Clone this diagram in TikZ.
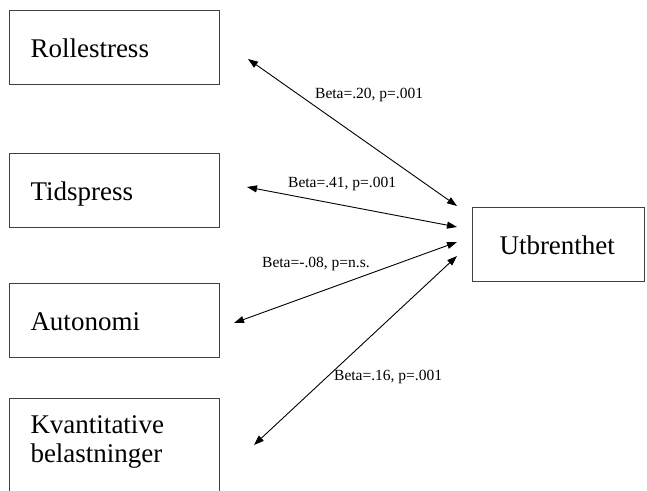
\documentclass[tikz,border=0pt]{standalone}
\usepackage{fontspec}
\setmainfont{Liberation Serif}
\usepackage{tikz}
\usetikzlibrary{arrows.meta, positioning, calc}
\definecolor{bline}{HTML}{404040}
\tikzset{
  vbox/.style={draw=bline, line width=1pt, anchor=north west, align=left,
               text width=168pt, inner xsep=21pt, inner ysep=0pt,
               minimum width=210pt, minimum height=74pt,
               text height=20pt, text depth=0pt,
               font=\fontsize{27}{29}\selectfont},
  coef/.style={anchor=base west, inner sep=0pt, font=\fontsize{15.5}{17}\selectfont},
  arr/.style={{Triangle[length=10pt,width=7pt]}-{Triangle[length=10pt,width=7pt]},
              line width=0.9pt, black},
}
\begin{document}
\begin{tikzpicture}[x=1pt, y=-1pt]
  \useasboundingbox (0,0) rectangle (647,490);

  %% Predictors
  \node[vbox] (rolle)  at (9,10)  {Rollestress};
  \node[vbox] (tids)   at (9,153) {Tidspress};
  \node[vbox] (auto)   at (9,283) {Autonomi};
  \node[vbox, inner ysep=15pt, text depth=70pt] (kvant) at (9,398)
       {Kvantitative\\belastninger};

  %% Outcome
  \node[vbox, text width=118pt, inner xsep=27pt, minimum width=172pt]
       (utb) at (472,207) {Utbrenthet};

  % arrow ends
  \coordinate (r1) at (248,59);
  \coordinate (t1) at (247,187);
  \coordinate (a1) at (234,323);
  \coordinate (k1) at (254,445);
  \coordinate (u1) at (457,206);
  \coordinate (u2) at (457,227);
  \coordinate (u3) at (457,242);
  \coordinate (u4) at (457,256);

  \draw[arr] (r1) -- (u1);
  \draw[arr] (t1) -- (u2);
  \draw[arr] (a1) -- (u3);
  \draw[arr] (k1) -- (u4);

  %% Coefficients
  \node[coef] (c1) at (315,98)  {Beta=.20, p=.001};
  \node[coef] (c2) at (288,187) {Beta=.41, p=.001};
  \node[coef] (c3) at (262,267) {Beta=-.08, p=n.s.};
  \node[coef] (c4) at (334,380) {Beta=.16, p=.001};

\end{tikzpicture}
\end{document}
